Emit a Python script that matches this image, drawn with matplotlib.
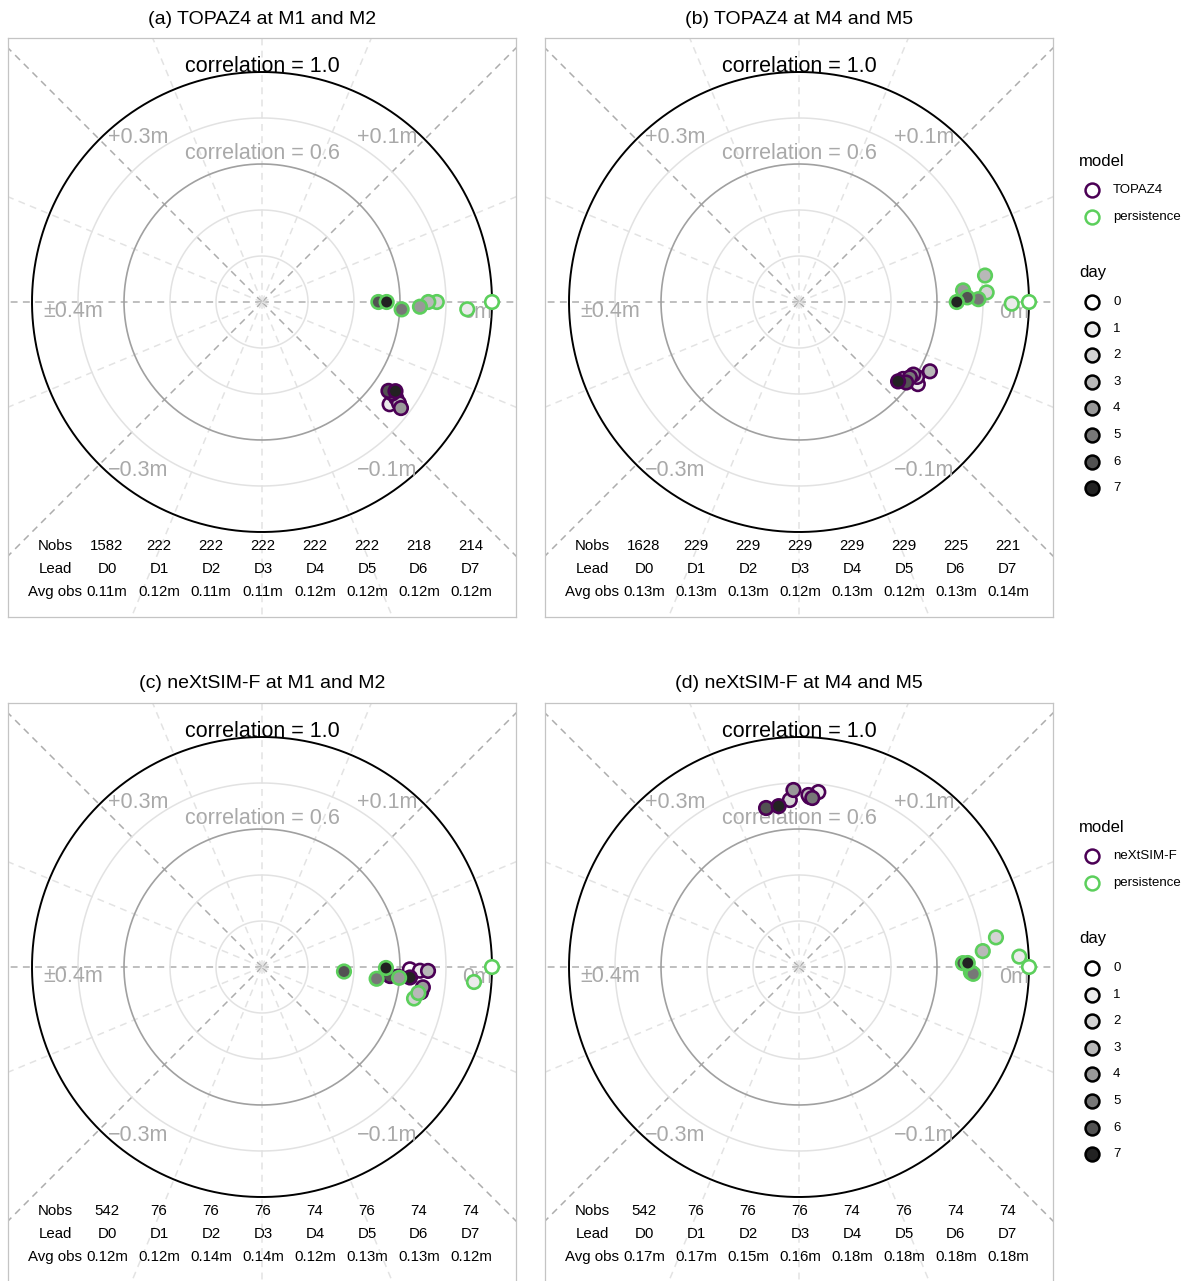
import numpy as np
import matplotlib
matplotlib.use('Agg')
from matplotlib import pyplot as plt

plt.rcParams['font.family'] = ['Liberation Sans', 'DejaVu Sans']

W, H = 1189, 1281
R_PX = 230.0  # pixels for correlation = 1

days = [0, 1, 2, 3, 4, 5, 6, 7]
lead = ['D0', 'D1', 'D2', 'D3', 'D4', 'D5', 'D6', 'D7']
day_fill = ['#ffffff', '#ebebeb', '#d3d3d3', '#b8b8b8', '#999999', '#777777', '#525252', '#222222']

titles = ['(a) TOPAZ4 at M1 and M2', '(b) TOPAZ4 at M4 and M5',
          '(c) neXtSIM-F at M1 and M2', '(d) neXtSIM-F at M4 and M5']
model_names = ['TOPAZ4', 'TOPAZ4', 'neXtSIM-F', 'neXtSIM-F']

# correlation and bias (m) for day 0..7
model_corr_a = [0.701, 0.711, 0.717, 0.740, 0.760, 0.692, 0.672, 0.698]
model_bias_a = [-0.079, -0.086, -0.079, -0.081, -0.083, -0.078, -0.078, -0.075]
pers_corr_a = [1.0, 0.893, 0.760, 0.723, 0.687, 0.608, 0.506, 0.542]
pers_bias_a = [0.0, -0.0045, 0.0, 0.0, -0.0038, -0.0067, 0.0, 0.0]

model_corr_b = [0.563, 0.628, 0.608, 0.644, 0.589, 0.583, 0.583, 0.552]
model_bias_b = [-0.081, -0.077, -0.072, -0.062, -0.072, -0.076, -0.082, -0.086]
pers_corr_b = [1.0, 0.925, 0.817, 0.817, 0.715, 0.780, 0.732, 0.686]
pers_bias_b = [0.0, -0.001, 0.0065, 0.018, 0.009, 0.002, 0.0035, 0.0]

model_corr_c = [0.643, 0.687, 0.700, 0.722, 0.705, 0.593, 0.558, 0.645]
model_bias_c = [-0.002, -0.003, -0.020, -0.003, -0.016, -0.009, -0.009, -0.009]
pers_corr_c = [1.0, 0.924, 0.675, 0.689, 0.598, 0.501, 0.357, 0.539]
pers_bias_c = [0.0, -0.009, -0.026, -0.021, -0.010, -0.013, -0.007, -0.001]

model_corr_d = [0.741, 0.765, 0.727, 0.749, 0.770, 0.737, 0.706, 0.705]
model_bias_d = [0.192, 0.186, 0.207, 0.193, 0.204, 0.190, 0.226, 0.216]
pers_corr_d = [1.0, 0.959, 0.866, 0.802, 0.748, 0.758, 0.713, 0.734]
pers_bias_d = [0.0, 0.006, 0.019, 0.011, -0.004, -0.005, 0.003, 0.003]

nobs_a = [1582, 222, 222, 222, 222, 222, 218, 214]
nobs_b = [1628, 229, 229, 229, 229, 229, 225, 221]
nobs_c = [542, 76, 76, 76, 74, 76, 74, 74]
nobs_d = [542, 76, 76, 76, 74, 76, 74, 74]

avg_obs_a = [0.11, 0.12, 0.11, 0.11, 0.12, 0.12, 0.12, 0.12]
avg_obs_b = [0.13, 0.13, 0.13, 0.12, 0.13, 0.12, 0.13, 0.14]
avg_obs_c = [0.12, 0.12, 0.14, 0.14, 0.12, 0.13, 0.13, 0.12]
avg_obs_d = [0.17, 0.17, 0.15, 0.16, 0.18, 0.18, 0.18, 0.18]

col_model = '#4b0055'
col_pers = '#5ccf5c'
light_txt = '#a9a9a9'

panels = [
    (8, 38, model_corr_a, model_bias_a, pers_corr_a, pers_bias_a, nobs_a, avg_obs_a),
    (545, 38, model_corr_b, model_bias_b, pers_corr_b, pers_bias_b, nobs_b, avg_obs_b),
    (8, 703, model_corr_c, model_bias_c, pers_corr_c, pers_bias_c, nobs_c, avg_obs_c),
    (545, 703, model_corr_d, model_bias_d, pers_corr_d, pers_bias_d, nobs_d, avg_obs_d),
]
PW, PH = 508, 579


def px_axes(fig, x0, y0, w, h):
    return fig.add_axes([x0 / W, 1 - (y0 + h) / H, w / W, h / H])


def to_xy(corr, bias):
    th = np.array(bias) / 0.4 * np.pi
    r = np.array(corr)
    return r * np.cos(th), r * np.sin(th)


fig = plt.figure(figsize=(W / 100, H / 100), dpi=100)

t = np.linspace(0, 2 * np.pi, 400)
for i, (x0, y0, mc, mb, pc, pb, nobs, avg) in enumerate(panels):
    ax = px_axes(fig, x0, y0, PW, PH)
    ax.set_xlim(-254 / R_PX, 254 / R_PX)
    ax.set_ylim(-315 / R_PX, 264 / R_PX)
    ax.set_xticks([])
    ax.set_yticks([])
    for s in ax.spines.values():
        s.set_color('#c4c4c4')
        s.set_linewidth(0.9)

    # radial dashed lines
    for k in range(16):
        a = np.deg2rad(k * 22.5)
        dark = k in (0, 2, 6, 8, 10, 14)
        ax.plot([0, 3 * np.cos(a)], [0, 3 * np.sin(a)],
                color='#adadad' if dark else '#e3e3e3',
                lw=1.1, ls=(0, (4.5, 3.5)), zorder=1)

    # correlation circles
    for rr in (0.2, 0.4, 0.8):
        ax.plot(rr * np.cos(t), rr * np.sin(t), color='#e2e2e2', lw=1.1, zorder=2)
    ax.plot(0.6 * np.cos(t), 0.6 * np.sin(t), color='#a0a0a0', lw=1.2, zorder=2)
    ax.plot(np.cos(t), np.sin(t), color='black', lw=1.4, zorder=2)

    ax.text(0, 1.022, 'correlation = 1.0', ha='center', va='center', fontsize=15.5, zorder=3)
    ax.text(0, 0.645, 'correlation = 0.6', ha='center', va='center', fontsize=15.5,
            color=light_txt, zorder=3)
    ax.text(-0.539, 0.717, '+0.3m', ha='center', va='center', fontsize=15.5, color=light_txt, zorder=3)
    ax.text(0.543, 0.717, '+0.1m', ha='center', va='center', fontsize=15.5, color=light_txt, zorder=3)
    ax.text(-0.822, -0.043, '±0.4m', ha='center', va='center', fontsize=15.5, color=light_txt, zorder=3)
    ax.text(0.935, -0.045, '0m', ha='center', va='center', fontsize=15.5, color=light_txt, zorder=3)
    ax.text(-0.539, -0.732, '\u22120.3m', ha='center', va='center', fontsize=15.5, color=light_txt, zorder=3)
    ax.text(0.543, -0.732, '\u22120.1m', ha='center', va='center', fontsize=15.5, color=light_txt, zorder=3)

    # table
    cols = [-0.9 + 0.226 * j for j in range(9)]
    rows = [-1.06, -1.16, -1.26]
    ax.text(cols[0], rows[0], 'Nobs', ha='center', va='center', fontsize=10.8)
    ax.text(cols[0], rows[1], 'Lead', ha='center', va='center', fontsize=10.8)
    ax.text(cols[0], rows[2], 'Avg obs', ha='center', va='center', fontsize=10.8)
    for j in range(8):
        ax.text(cols[j + 1], rows[0], str(nobs[j]), ha='center', va='center', fontsize=10.8)
        ax.text(cols[j + 1], rows[1], lead[j], ha='center', va='center', fontsize=10.8)
        ax.text(cols[j + 1], rows[2], '%.2fm' % avg[j], ha='center', va='center', fontsize=10.8)

    # points
    mx, my = to_xy(mc, mb)
    ax.scatter(mx, my, s=95, c=day_fill, edgecolors=col_model, linewidths=1.9, zorder=5)
    px, py = to_xy(pc, pb)
    ax.scatter(px, py, s=95, c=day_fill, edgecolors=col_pers, linewidths=1.9, zorder=6)

    ax.text(0.5, 1 + 19 / PH, titles[i], transform=ax.transAxes, ha='center', va='center',
            fontsize=14)

# legends (pixel coordinates)
lax = fig.add_axes([0, 0, 1, 1])
lax.set_xlim(0, W)
lax.set_ylim(H, 0)
lax.axis('off')
for row, off in enumerate((0, 666)):
    lax.text(1079, 161 + off, 'model', ha='left', va='center', fontsize=12)
    for k, (lab, col) in enumerate([(model_names[row * 2], col_model), ('persistence', col_pers)]):
        yy = 190 + off + 27 * k
        lax.plot([1092], [yy], marker='o', ms=10, mfc='white', mec=col, mew=1.8, ls='none')
        lax.text(1113, yy, lab, ha='left', va='center', fontsize=9.5)
    lax.text(1079, 272 + off, 'day', ha='left', va='center', fontsize=12)
    for k in days:
        yy = 302 + off + 26.6 * k
        lax.plot([1092], [yy], marker='o', ms=10, mfc=day_fill[k], mec='black', mew=1.8, ls='none')
        lax.text(1113, yy, str(k), ha='left', va='center', fontsize=9.5)

fig.savefig('out.png', dpi=100)
